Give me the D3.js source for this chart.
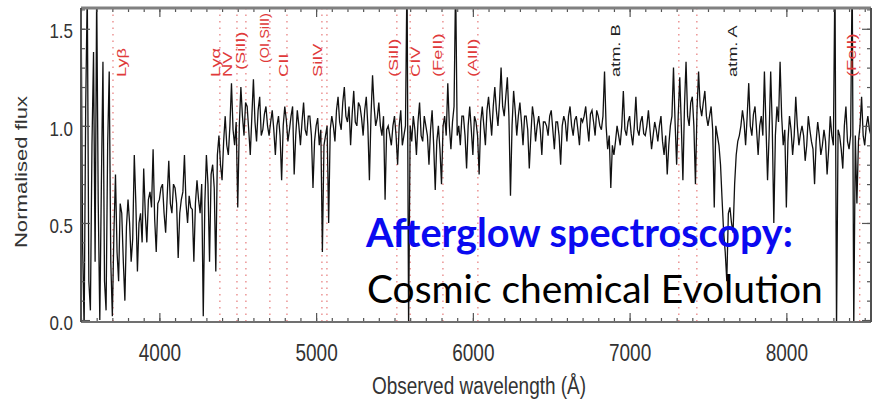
<!DOCTYPE html>
<html><head><meta charset="utf-8">
<script src="https://cdn.jsdelivr.net/npm/d3@7"></script>
<style>body{margin:0;background:#fff}</style>
</head><body>
<svg id="c" width="873" height="404"></svg>
<script>
// ---------------- data ----------------
const waveStart = 3500, waveStep = 10;   // Å sampling of the flux list
const flux = [
 1.70,0.40,-0.05,1.10,1.70,0.20,0.05,0.90,1.38,0.30,1.70,0.60,0.00,0.70,1.33,0.20,0.05,0.90,1.28,0.30,
 0.02,0.45,0.75,0.35,0.20,0.60,0.55,0.30,0.10,0.48,0.62,0.50,0.30,0.42,0.85,0.60,0.25,0.50,0.55,0.40,
 0.78,0.55,0.40,0.62,0.66,0.58,0.88,0.52,0.35,0.60,0.62,0.68,0.70,0.55,0.45,0.64,0.82,0.60,0.55,0.70,
 0.68,0.60,0.32,0.55,0.62,0.66,0.85,0.60,0.50,0.64,0.58,0.57,0.30,0.60,0.72,0.62,0.55,0.70,0.02,0.60,
 0.85,0.70,0.30,0.75,0.80,0.68,0.25,0.85,0.95,0.80,0.72,0.92,1.05,0.90,0.85,1.00,1.22,0.98,0.90,1.02,
 0.58,1.00,1.20,1.05,0.95,1.12,1.10,0.98,0.85,1.05,1.24,1.02,0.92,1.08,1.15,0.95,0.98,1.06,1.10,1.00,
 0.95,1.02,1.08,0.98,0.85,1.00,1.05,0.95,0.72,1.00,1.10,1.03,0.92,0.98,1.05,1.10,0.75,0.95,1.08,1.00,
 0.90,1.02,1.12,0.98,0.95,1.05,1.05,0.95,0.68,0.92,1.00,1.04,0.90,0.98,0.35,0.90,0.95,1.00,0.50,0.98,
 1.05,1.00,0.92,1.08,1.15,1.02,0.98,1.12,1.20,1.05,1.02,1.10,0.90,1.06,1.18,1.02,1.00,1.12,1.10,1.04,
 0.95,1.08,1.15,1.00,0.72,1.05,1.26,1.10,1.00,1.04,1.12,1.00,0.95,1.05,0.62,0.98,1.00,0.95,0.90,1.00,
 1.05,0.95,0.80,1.00,1.08,0.90,0.95,1.00,1.80,-0.05,1.00,0.92,1.05,0.98,0.85,1.02,1.12,0.95,0.92,1.05,
 1.00,0.95,0.80,0.98,1.08,0.90,0.67,0.92,1.00,0.88,0.70,1.00,1.05,0.95,1.22,1.00,0.88,1.02,1.10,1.75,
 0.95,1.00,0.90,1.05,1.05,0.95,0.78,1.00,1.10,0.98,0.85,1.05,1.02,0.95,0.75,1.02,1.10,1.00,0.90,1.08,
 1.15,1.05,0.95,1.10,1.20,1.08,1.00,1.12,1.30,1.10,1.05,1.15,1.25,1.05,0.64,1.00,1.18,1.08,0.95,1.05,
 1.12,1.02,0.90,1.05,1.05,0.98,0.78,0.95,1.10,1.04,0.92,1.00,1.05,0.98,0.85,1.02,1.02,1.00,0.95,1.05,
 1.08,0.98,0.88,1.02,1.02,0.95,0.80,1.00,1.05,1.02,0.92,1.05,1.10,1.00,0.95,1.03,1.05,0.98,0.90,1.04,
 1.02,1.05,1.10,1.00,0.92,1.06,1.08,1.02,0.95,1.08,1.05,1.00,0.98,1.05,1.28,1.00,0.88,0.95,0.68,0.90,
 0.85,0.92,1.00,0.95,0.90,1.00,1.18,0.98,0.95,1.02,1.05,0.96,0.90,1.00,1.15,0.98,0.95,1.02,1.05,0.96,
 0.95,1.00,1.08,0.98,0.88,0.95,1.02,0.98,0.92,1.00,1.05,0.92,0.85,0.95,0.75,0.90,1.00,1.05,1.30,1.02,
 0.80,1.05,1.25,1.00,0.72,1.10,1.33,1.05,1.00,1.12,1.15,1.00,0.70,1.08,1.28,1.10,1.05,1.12,1.18,1.05,
 1.00,1.05,1.10,0.98,0.58,1.00,0.95,0.90,0.80,0.62,0.45,0.35,0.20,0.55,0.58,0.50,0.45,0.70,0.85,0.92,
 0.95,1.00,1.08,1.02,0.90,1.05,1.22,1.00,0.95,1.06,1.10,0.98,0.85,1.00,1.05,0.95,1.28,1.00,0.72,0.95,
 1.28,1.00,0.50,0.95,1.10,1.02,1.33,1.05,0.90,0.98,0.58,0.92,1.05,0.98,0.85,0.95,1.15,1.00,0.90,0.96,
 1.00,0.95,0.82,0.90,1.05,0.98,0.92,0.88,0.70,0.92,1.02,0.95,0.85,0.90,0.98,0.92,0.75,0.88,1.05,0.95,
 0.90,1.80,-0.05,0.98,0.95,0.88,0.78,1.00,1.10,0.92,0.88,0.95,1.80,-0.05,0.95,0.60,0.92,1.00,1.15,0.95,
 0.90,1.00,1.05,0.98,0.95
];
const xTickValues = [4000, 5000, 6000, 7000, 8000];
const yTickValues = [0.0, 0.5, 1.0, 1.5];
const lineWaves = [3704, 4386, 4495, 4552, 4705, 4814, 5037, 5069, 5515, 5600, 5809, 6032, 7314, 7429, 8468];
const labelNames = ["Lyβ", "Lyα", "NV", "(SiII)", "(OI,SiII)", "CII", "SiIV", "(SiII)", "CIV", "(FeII)", "(AlII)", "atm. B", "atm. A", "(FeII)"];
const labelWaves = [3755, 4355, 4431, 4514, 4667, 4788, 5005, 5490, 5630, 5770, 5994, 6906, 7652, 8417];
const labelKinds = ["ion","ion","ion","ion","ion","ion","ion","ion","ion","ion","ion","atm","atm","ion"];
const xTitle = "Observed wavelength (Å)";
const yTitle = "Normalised flux";
const headline = "Afterglow spectroscopy:";
const subline = "Cosmic chemical Evolution";

// ---------------- layout ----------------
const L = 81, R = 871, T = 8, B = 322;
const labelBottom = {3: 70, 4: 63};   // raised labels (index -> bottom px)
const labelLength = {4: 37};          // squeezed labels (index -> local length)
const svg = d3.select("#c");
svg.append("rect").attr("width", 873).attr("height", 404).attr("fill", "#fff");

const x = d3.scaleLinear().domain([3500, 8540]).range([L, R]);
const y = d3.scaleLinear().domain([-0.01, 1.607]).range([B, T]);

svg.append("defs").append("clipPath").attr("id", "clip")
  .append("rect").attr("x", L).attr("y", T).attr("width", R - L).attr("height", B - T);

const plot = svg.append("g").attr("clip-path", "url(#clip)");

// dotted line markers
plot.selectAll("line.mark").data(lineWaves).join("line")
  .attr("class", "mark")
  .attr("x1", d => x(d)).attr("x2", d => x(d))
  .attr("y1", T).attr("y2", B)
  .attr("stroke", "#e05a5a").attr("stroke-opacity", 0.75)
  .attr("stroke-width", 1.3).attr("stroke-dasharray", "1.5,5");

// spectrum
const pts = flux.map((f, i) => [waveStart + i * waveStep, f]);
plot.append("path").datum(pts)
  .attr("fill", "none").attr("stroke", "#111").attr("stroke-width", 1.3)
  .attr("stroke-linejoin", "miter")
  .attr("d", d3.line().x(d => x(d[0])).y(d => y(d[1])));

// axes ticks
const tickCol = "#555";
function styleAxis(g) { g.select(".domain").remove(); g.selectAll("line").attr("stroke", tickCol).attr("stroke-width", 1.2); }
const xMinor = d3.range(3500, 8541, 100);
const yMinor = d3.range(0, 1.601, 0.1);
svg.append("g").attr("transform", `translate(0,${B})`).call(d3.axisTop(x).tickValues(xMinor).tickSize(4).tickFormat("")).call(styleAxis);
svg.append("g").attr("transform", `translate(0,${B})`).call(d3.axisTop(x).tickValues(xTickValues).tickSize(9).tickFormat("")).call(styleAxis);
svg.append("g").attr("transform", `translate(0,${T})`).call(d3.axisBottom(x).tickValues(xMinor).tickSize(4).tickFormat("")).call(styleAxis);
svg.append("g").attr("transform", `translate(0,${T})`).call(d3.axisBottom(x).tickValues(xTickValues).tickSize(9).tickFormat("")).call(styleAxis);
svg.append("g").attr("transform", `translate(${L},0)`).call(d3.axisRight(y).tickValues(yMinor).tickSize(4).tickFormat("")).call(styleAxis);
svg.append("g").attr("transform", `translate(${L},0)`).call(d3.axisRight(y).tickValues(yTickValues).tickSize(9).tickFormat("")).call(styleAxis);
svg.append("g").attr("transform", `translate(${R},0)`).call(d3.axisLeft(y).tickValues(yMinor).tickSize(4).tickFormat("")).call(styleAxis);
svg.append("g").attr("transform", `translate(${R},0)`).call(d3.axisLeft(y).tickValues(yTickValues).tickSize(9).tickFormat("")).call(styleAxis);

// frame
svg.append("line").attr("x1", L).attr("x2", R).attr("y1", T).attr("y2", T).attr("stroke", "#808080").attr("stroke-width", 3);
svg.append("line").attr("x1", L).attr("x2", R).attr("y1", B).attr("y2", B).attr("stroke", "#707070").attr("stroke-width", 2);
svg.append("line").attr("x1", L).attr("x2", L).attr("y1", T).attr("y2", B).attr("stroke", "#505050").attr("stroke-width", 2);
svg.append("line").attr("x1", R).attr("x2", R).attr("y1", T).attr("y2", B).attr("stroke", "#505050").attr("stroke-width", 2);

// tick labels
const font = "'Liberation Sans', Arial, Helvetica, sans-serif";
const xl = svg.append("g").attr("transform", `translate(0,${B})`).call(d3.axisBottom(x).tickValues(xTickValues).tickSize(0).tickFormat(d3.format("d")));
xl.select(".domain").remove();
xl.selectAll("text").attr("y", 0).attr("dy", "0.35em")
  .attr("transform", "translate(0,30) scale(1,1.3)")
  .attr("font-family", font).attr("font-size", 19).attr("fill", "#333");
const yl = svg.append("g").attr("transform", `translate(${L},0)`).call(d3.axisLeft(y).tickValues(yTickValues).tickSize(0).tickFormat(d3.format(".1f")));
yl.select(".domain").remove();
yl.selectAll("text").attr("x", 0).attr("dy", "0.35em")
  .attr("transform", "translate(-8,2) scale(1,1.2)")
  .attr("font-family", font).attr("font-size", 17).attr("fill", "#333");

// axis titles
svg.append("text").attr("transform", `translate(${(L + R) / 2 + 3},385) scale(1,1.3)`)
  .attr("text-anchor", "middle").attr("dy", "0.35em")
  .attr("font-family", font).attr("font-size", 19).attr("fill", "#333").text(xTitle);
svg.append("text").attr("transform", "translate(21,172) scale(1,1.3) rotate(-90)")
  .attr("text-anchor", "middle").attr("dy", "0.35em")
  .attr("font-family", font).attr("font-size", 17).attr("fill", "#333").text(yTitle);

// line labels
svg.selectAll("text.lab").data(labelNames).join("text")
  .attr("class", "lab")
  .attr("transform", (d, i) => `translate(${x(labelWaves[i])},${labelBottom[i] || 77}) scale(1,1.35) rotate(-90)`)
  .attr("dy", "0.35em").attr("text-anchor", "start")
  .attr("font-family", font).attr("font-size", 13.5)
  .attr("fill", (d, i) => labelKinds[i] === "atm" ? "#222" : "#e03a3a")
  .each(function (d, i) {
    if (labelLength[i]) d3.select(this).attr("textLength", labelLength[i]).attr("lengthAdjust", "spacingAndGlyphs");
  })
  .text(d => d);

// headline texts
function fit(sel, target) {
  const len = sel.node().getComputedTextLength();
  const fs = parseFloat(sel.attr("font-size"));
  sel.attr("font-size", fs * target / len);
}
const h1 = svg.append("text").attr("x", 366).attr("y", 247)
  .attr("font-family", "Lato, 'Open Sans', sans-serif").attr("font-weight", "bold")
  .attr("font-size", 34).attr("fill", "#0a0af0").text(headline);
fit(h1, 427);
const h2 = svg.append("text").attr("x", 367).attr("y", 303)
  .attr("font-family", "Lato, 'Open Sans', sans-serif")
  .attr("font-size", 36).attr("fill", "#000").text(subline);
fit(h2, 456);
</script>
</body></html>
